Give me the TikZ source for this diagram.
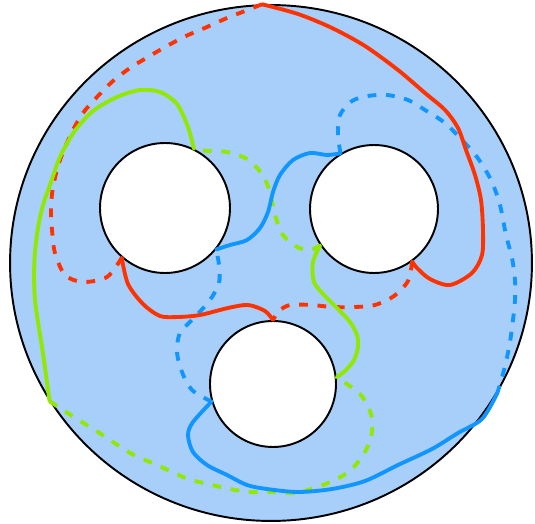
\documentclass[tikz,border=0pt]{standalone}
\usetikzlibrary{shapes.geometric}
\definecolor{discblue}{RGB}{168,206,250}
\definecolor{loopred}{RGB}{255,51,0}
\definecolor{loopgreen}{RGB}{145,232,0}
\definecolor{loopblue}{RGB}{17,150,255}
\tikzset{
  disc/.style={draw,ellipse,line width=1.1pt,fill=discblue,minimum width=10.44cm,minimum height=10.32cm,inner sep=0pt},
  hole/.style={draw,circle,line width=1.1pt,fill=white,inner sep=0pt},
  frontln/.style={line width=2.2pt,line cap=round,line join=round},
  backln/.style={line width=2.2pt,dash pattern=on 5pt off 5.5pt}
}

\begin{document}
\begin{tikzpicture}[x=0.02cm,y=-0.02cm]
  \useasboundingbox (0,0) rectangle (535,524);

  \node[disc] (rim) at (271,263) {};
  \node[hole,minimum size=2.6cm] (lhole) at (165,208) {};
  \node[hole,minimum size=2.56cm] (rhole) at (374,209) {};
  \node[hole,minimum size=2.52cm] (bhole) at (273,384) {};

  % back side (dashed)
  \draw[backln,loopred] plot[smooth] coordinates {(rhole.-54) (408,281) (394,296) (375,305) (355,307) (332,307) (312,305) (290,305) (279,311) (bhole.90)};
  \draw[backln,loopred] plot[smooth] coordinates {(lhole.-131) (107,277) (83,282) (65,275) (55,253) (52,230) (51,210) (53,187) (60,160) (72,132) (83,113) (97,97) (113,81) (130,68) (148,57) (167,46) (186,36) (207,27) (227,18) (245,11) (rim.92)};
  \draw[backln,loopgreen] plot[smooth] coordinates {(rim.212.6) (77,419) (95,430) (113,442) (132,454) (150,462) (168,470) (188,479) (208,484) (230,489) (250,492) (272,492) (295,493) (317,487) (335,480) (352,469) (366,450) (372,432) (371,414) (360,394) (bhole.6)};
  \draw[backln,loopgreen] plot[smooth] coordinates {(rhole.-146) (310,250) (297,247) (283,235) (275,215) (270,192) (262,174) (247,159) (227,152) (207,151) (lhole.64)};
  \draw[backln,loopblue] plot[smooth] coordinates {(rhole.121) (338,135) (340,115) (352,101) (368,96) (387,95) (408,100) (425,110) (445,123) (462,140) (477,157) (491,180) (500,205) (506,235) (512,258) (515,280) (515,300) (513,320) (510,342) (506,362) (501,381) (rim.-30.7)};
  \draw[backln,loopblue] plot[smooth] coordinates {(bhole.-164) (192,390) (182,372) (177,352) (180,333) (195,317) (210,300) (219,283) (219,265) (lhole.-39)};

  % front side (solid)
  \draw[frontln,loopred] plot[smooth] coordinates {(rim.92) (298,14) (332,28) (365,46) (398,70) (425,93) (445,110) (458,128) (466,150) (475,175) (481,200) (483,230) (482,255) (472,273) (450,285) (430,279) (417,268) (rhole.-54)};
  \draw[frontln,loopred] plot[smooth] coordinates {(bhole.90) (265,311) (248,305) (228,308) (200,315) (178,317) (160,316) (143,304) (128,284) (lhole.-131)};
  \draw[frontln,loopgreen] plot[smooth] coordinates {(lhole.64) (188,127) (177,104) (160,92) (140,90) (117,97) (93,111) (74,132) (60,157) (50,185) (43,205) (38,228) (35,252) (34,276) (35,300) (38,322) (42,347) (46,375) (rim.212.6)};
  \draw[frontln,loopgreen] plot[smooth] coordinates {(bhole.6) (346,370) (354,360) (358,347) (357,335) (350,322) (338,309) (325,296) (314,282) (313,262) (rhole.-146)};
  \draw[frontln,loopblue] plot[smooth] coordinates {(lhole.-39) (230,245) (247,240) (260,228) (268,212) (273,192) (280,175) (293,160) (310,153) (327,155) (rhole.121)};
  \draw[frontln,loopblue] plot[smooth] coordinates {(rim.-30.7) (482,419) (458,433) (432,449) (398,465) (365,481) (332,489) (298,492) (267,489) (247,485) (227,475) (207,465) (193,452) (188,435) (193,422) (bhole.-164)};
\end{tikzpicture}
\end{document}
